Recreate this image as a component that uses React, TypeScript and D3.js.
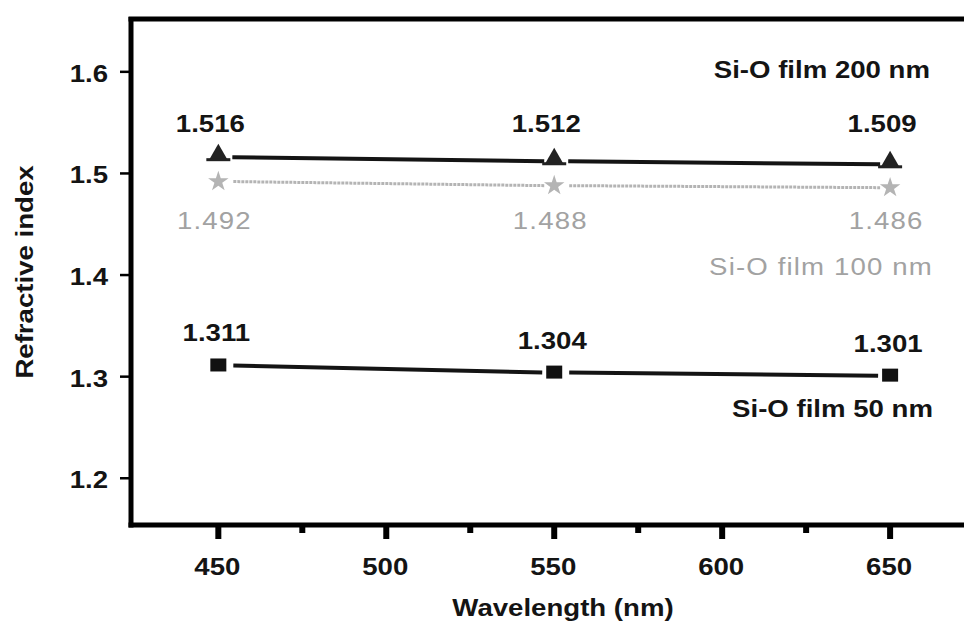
import React from "react";
import * as d3 from "d3";

// ---- data ----
const wavelengths = [450, 550, 650];
const film200 = [1.516, 1.512, 1.509];
const film100 = [1.492, 1.488, 1.486];
const film50 = [1.311, 1.304, 1.301];
const seriesNames = ["Si-O film 200 nm", "Si-O film 100 nm", "Si-O film 50 nm"];
const yTicks = [1.2, 1.3, 1.4, 1.5, 1.6];
const xTicks = [450, 500, 550, 600, 650];
const xMinorTicks = [475, 525, 575, 625];
const xTitle = "Wavelength (nm)";
const yTitle = "Refractive index";

// ---- layout ----
const W = 964;
const H = 624;
const FONT = "'Liberation Sans', Arial, Helvetica, sans-serif";
const SX = 1.15;
const BLACK = "#141414";
const GREY = "#b4b4b4";
const GREY_TEXT = "#a2a2a2";

const x = d3.scaleLinear().domain([424, 672]).range([131, 964]);
const y = d3.scaleLinear().domain([1.154, 1.652]).range([525, 19]);

function SText({ x: tx, y: ty, anchor = "middle", bold = true, fill = BLACK, size = 24, rotate = 0, spacing = 0, children }: any) {
  const tr = `translate(${tx},${ty})${rotate ? ` rotate(${rotate})` : ""} scale(${SX},1)`;
  return (
    <text
      transform={tr}
      textAnchor={anchor}
      fontFamily={FONT}
      fontSize={size}
      fontWeight={bold ? "bold" : "normal"}
      fill={fill}
      letterSpacing={spacing}
    >
      {children}
    </text>
  );
}

function segments(vals: number[], gapStart: number, gapEnd: number) {
  const segs: [number, number, number, number][] = [];
  for (let i = 0; i < vals.length - 1; i++) {
    segs.push([
      x(wavelengths[i]) + gapStart,
      y(vals[i]),
      x(wavelengths[i + 1]) - gapEnd,
      y(vals[i + 1]),
    ]);
  }
  return segs;
}

const lineGen = d3.line<[number, number]>();

export default function App() {
  const tri = d3.symbol().type(d3.symbolTriangle).size(170)();
  const star = d3.symbol().type(d3.symbolStar).size(130)();

  const base200 = y(d3.max(film200)!) - 25;
  const base100 = y(d3.max(film100)!) + 47;

  return (
    <svg
      width={W}
      height={H}
      style={{ position: "absolute", left: 0, top: 0, background: "#fff" }}
    >
      <rect x={0} y={0} width={W} height={H} fill="#fff" />

      {/* lines */}
      {segments(film200, 14, 10).map((s, i) => (
        <path key={"l200" + i} d={lineGen([[s[0], s[1]], [s[2], s[3]]])!} stroke={BLACK} strokeWidth={4} fill="none" />
      ))}
      {segments(film100, 15, 10).map((s, i) => (
        <path key={"l100" + i} d={lineGen([[s[0], s[1]], [s[2], s[3]]])!} stroke={GREY} strokeWidth={3} strokeDasharray="3 1" fill="none" />
      ))}
      {segments(film50, 15, 12).map((s, i) => (
        <path key={"l50" + i} d={lineGen([[s[0], s[1]], [s[2], s[3]]])!} stroke={BLACK} strokeWidth={4} fill="none" />
      ))}

      {/* markers */}
      {film200.map((v, i) => (
        <g key={"m200" + i}>
          <path d={tri!} transform={`translate(${x(wavelengths[i])},${y(v) - 2})`} fill="#222" />
          <rect x={x(wavelengths[i]) - 12} y={y(v) + 1} width={24} height={3} fill="#222" />
        </g>
      ))}
      {film100.map((v, i) => (
        <path key={"m100" + i} d={star!} transform={`translate(${x(wavelengths[i])},${y(v)})`} fill={GREY} />
      ))}
      {film50.map((v, i) => (
        <rect key={"m50" + i} x={x(wavelengths[i]) - 8} y={y(v) - 7} width={16} height={13} fill="#111" />
      ))}

      {/* value labels */}
      {film200.map((v, i) => (
        <SText key={"t200" + i} x={x(wavelengths[i]) - 8} y={base200}>{v.toFixed(3)}</SText>
      ))}
      {film100.map((v, i) => (
        <SText key={"t100" + i} x={x(wavelengths[i]) - 4} y={base100} bold={false} fill={GREY_TEXT} spacing={1}>{v.toFixed(3)}</SText>
      ))}
      {film50.map((v, i) => (
        <SText key={"t50" + i} x={x(wavelengths[i]) - 2} y={y(v) - 24}>{v.toFixed(3)}</SText>
      ))}

      {/* series names */}
      <SText x={930} y={78} anchor="end">{seriesNames[0]}</SText>
      <SText x={933} y={275} anchor="end" bold={false} fill={GREY_TEXT} spacing={1}>{seriesNames[1]}</SText>
      <SText x={933} y={417} anchor="end">{seriesNames[2]}</SText>

      {/* frame */}
      <line x1={x(424)} y1={y(1.652) - 2} x2={x(424)} y2={y(1.154) + 2.5} stroke="#000" strokeWidth={5} />
      <line x1={x(424) - 2.5} y1={y(1.652)} x2={W} y2={y(1.652)} stroke="#000" strokeWidth={5} />
      <line x1={x(424) - 2.5} y1={y(1.154)} x2={W} y2={y(1.154)} stroke="#000" strokeWidth={5} />

      {/* y ticks */}
      {yTicks.map((t) => (
        <g key={"yt" + t}>
          <line x1={x(424) - 11} x2={x(424)} y1={y(t)} y2={y(t)} stroke="#000" strokeWidth={2.5} />
          <SText x={108} y={y(t) + 10} anchor="end">{t.toFixed(1)}</SText>
        </g>
      ))}

      {/* x ticks */}
      {xTicks.map((t) => (
        <g key={"xt" + t}>
          <line x1={x(t)} x2={x(t)} y1={y(1.154)} y2={y(1.154) + 14} stroke="#000" strokeWidth={6} />
          <SText x={x(t) - 1} y={575}>{String(t)}</SText>
        </g>
      ))}
      {xMinorTicks.map((t) => (
        <line key={"xm" + t} x1={x(t)} x2={x(t)} y1={y(1.154)} y2={y(1.154) + 8} stroke="#000" strokeWidth={6} />
      ))}

      {/* axis titles */}
      <SText x={563} y={616}>{xTitle}</SText>
      <SText x={33} y={272} rotate={-90}>{yTitle}</SText>
    </svg>
  );
}
